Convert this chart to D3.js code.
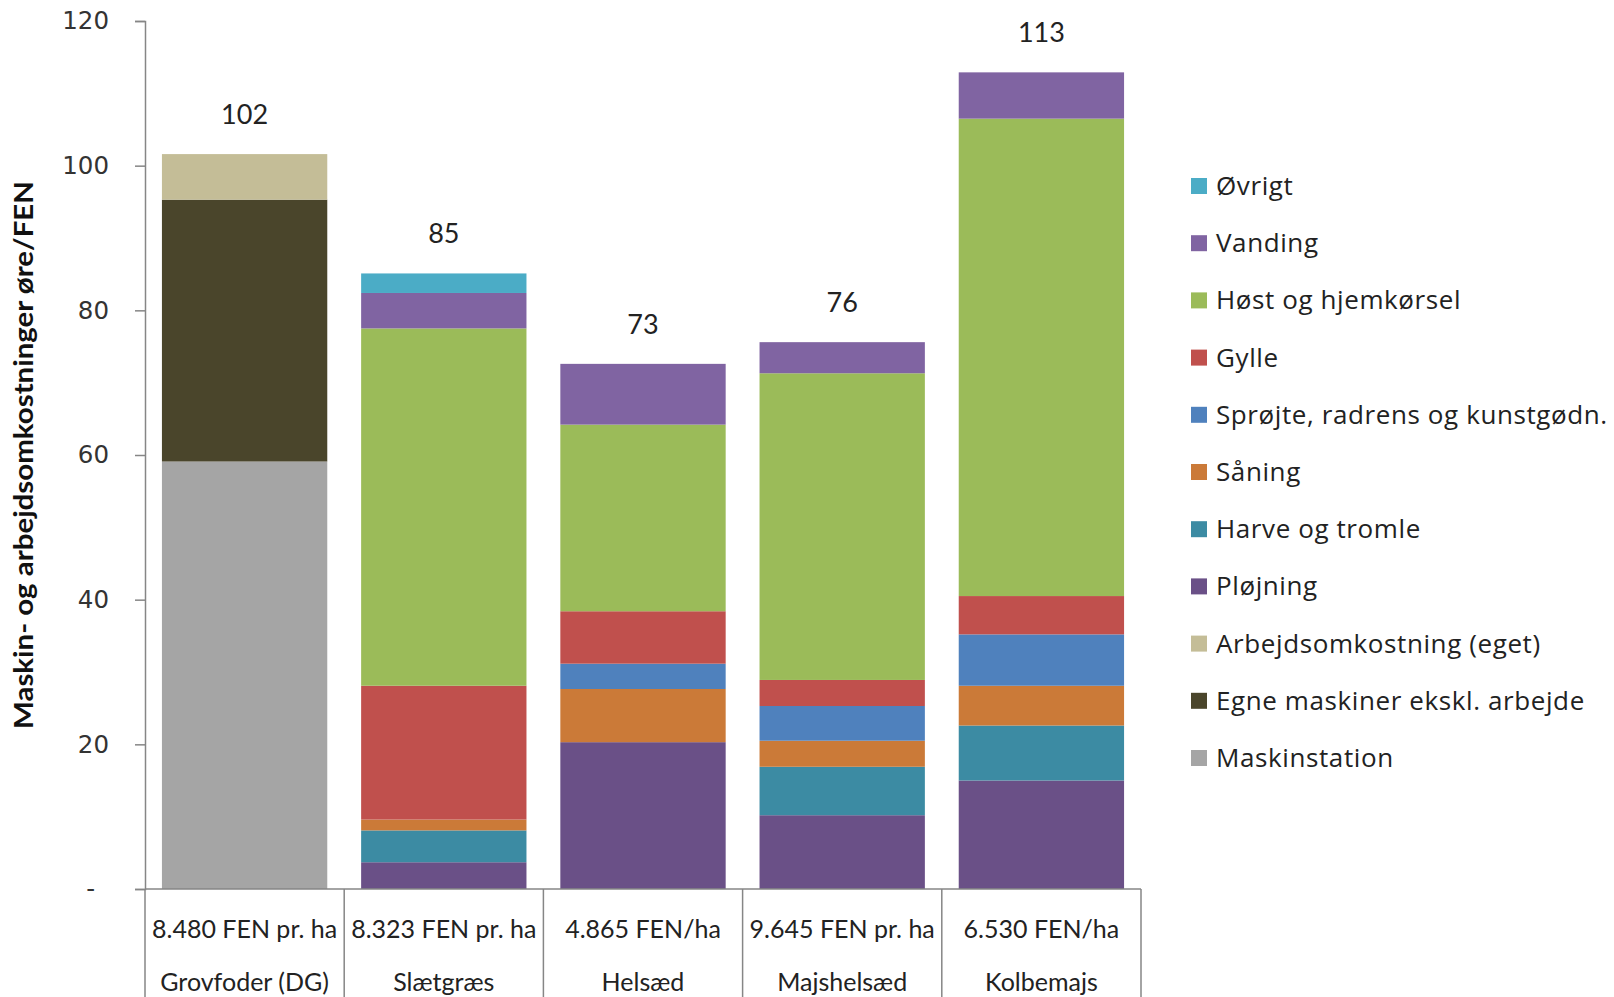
<!DOCTYPE html>
<html>
<head>
<meta charset="utf-8">
<script src="https://cdn.jsdelivr.net/npm/d3@7"></script>
<style>
    body { margin: 0; background: #fff; }
    svg { display: block; }
</style>
</head>
<body>
<div id="chart"></div>
<script>
// categories and values (øre/FEN)
var categories = ["Grovfoder (DG)", "Slætgræs", "Helsæd", "Majshelsæd", "Kolbemajs"];
var fenLabels = ["8.480 FEN pr. ha", "8.323 FEN pr. ha", "4.865 FEN/ha", "9.645 FEN pr. ha", "6.530 FEN/ha"];

var seriesNames = ["Maskinstation", "Egne maskiner ekskl. arbejde", "Arbejdsomkostning (eget)",
    "Pløjning", "Harve og tromle", "Såning", "Sprøjte, radrens og kunstgødn.", "Gylle",
    "Høst og hjemkørsel", "Vanding", "Øvrigt"];
var seriesColors = ["#a5a5a5", "#4a452b", "#c4bd97", "#6a5087", "#3c8ba3", "#cb7a38",
    "#4f81bd", "#c0504d", "#9bbb59", "#8064a2", "#4bacc6"];

var maskinstation = [59.1, 0, 0, 0, 0];
var egneMaskiner  = [36.2, 0, 0, 0, 0];
var arbejde       = [6.3, 0, 0, 0, 0];
var ploejning     = [0, 3.7, 20.3, 10.2, 15.0];
var harve         = [0, 4.4, 0, 6.7, 7.6];
var saaning       = [0, 1.5, 7.35, 3.6, 5.5];
var sproejte      = [0, 0, 3.5, 4.8, 7.1];
var gylle         = [0, 18.5, 7.25, 3.6, 5.3];
var hoest         = [0, 49.4, 25.8, 42.4, 66.0];
var vanding       = [0, 4.9, 8.4, 4.3, 6.4];
var oevrigt       = [0, 2.7, 0, 0, 0];

var yTicks = [0, 20, 40, 60, 80, 100, 120];

var seriesValues = [maskinstation, egneMaskiner, arbejde, ploejning, harve, saaning,
    sproejte, gylle, hoest, vanding, oevrigt];

var rows = categories.map(function(c, i) {
    var row = { category: c, fen: fenLabels[i] };
    seriesNames.forEach(function(s, j) { row[s] = seriesValues[j][i]; });
    return row;
});

var width = 1614, height = 997;
var plot = { left: 145, right: 1141, top: 21, bottom: 889 };
var axisColor = "#868686";

var svg = d3.select("#chart").append("svg")
    .attr("width", width)
    .attr("height", height);

var x = d3.scaleBand()
    .domain(categories)
    .range([plot.left, plot.right])
    .paddingInner(0.17)
    .paddingOuter(0.085);

var y = d3.scaleLinear()
    .domain([0, 120])
    .range([plot.bottom, plot.top]);

var color = d3.scaleOrdinal().domain(seriesNames).range(seriesColors);

var stacked = d3.stack().keys(seriesNames)(rows);

// bars
svg.append("g").selectAll("g")
    .data(stacked)
    .enter().append("g")
    .attr("fill", function(d) { return color(d.key); })
    .selectAll("rect")
    .data(function(d) { return d; })
    .enter().append("rect")
    .attr("x", function(d) { return x(d.data.category); })
    .attr("y", function(d) { return y(d[1]); })
    .attr("width", x.bandwidth())
    .attr("height", function(d) { return y(d[0]) - y(d[1]); });

// totals above bars
svg.append("g").selectAll("text")
    .data(rows)
    .enter().append("text")
    .attr("x", function(d) { return x(d.category) + x.bandwidth() / 2; })
    .attr("y", function(d) {
        var total = d3.sum(seriesNames, function(s) { return d[s]; });
        return y(total) - 30;
    })
    .attr("text-anchor", "middle")
    .attr("font-family", "Lato, 'Open Sans', sans-serif")
    .attr("font-size", "27px")
    .attr("fill", "#222")
    .text(function(d) {
        return Math.round(d3.sum(seriesNames, function(s) { return d[s]; }));
    });

// y axis
var yAxis = d3.axisLeft(y)
    .tickValues(yTicks)
    .tickSize(10)
    .tickPadding(26)
    .tickFormat(function(v) { return v === 0 ? "-" : v; });

var yg = svg.append("g")
    .attr("transform", "translate(" + plot.left + ",0)")
    .call(yAxis);
yg.select(".domain").attr("stroke", axisColor).attr("stroke-width", 1.5);
yg.selectAll(".tick line").attr("stroke", axisColor).attr("stroke-width", 1.5);
yg.selectAll(".tick text")
    .attr("font-family", "'DejaVu Sans', Verdana, sans-serif")
    .attr("font-size", "24.5px")
    .attr("fill", "#333")
    .attr("dx", function(v) { return v === 0 ? -14 : 0; });

// x axis line and category separators
svg.append("line")
    .attr("x1", plot.left).attr("x2", plot.right)
    .attr("y1", plot.bottom).attr("y2", plot.bottom)
    .attr("stroke", axisColor).attr("stroke-width", 1.5);

var bounds = d3.range(categories.length + 1).map(function(i) {
    return plot.left + i * x.step();
});
svg.append("g").selectAll("line")
    .data(bounds)
    .enter().append("line")
    .attr("x1", function(d) { return d; })
    .attr("x2", function(d) { return d; })
    .attr("y1", plot.bottom)
    .attr("y2", height)
    .attr("stroke", axisColor)
    .attr("stroke-width", 1.5);

var labelFont = "Lato, 'Open Sans', sans-serif";
svg.append("g").selectAll("text")
    .data(rows)
    .enter().append("text")
    .attr("x", function(d) { return x(d.category) + x.bandwidth() / 2; })
    .attr("y", 938)
    .attr("text-anchor", "middle")
    .attr("font-family", labelFont)
    .attr("font-size", "25px")
    .attr("fill", "#222")
    .text(function(d) { return d.fen; });

svg.append("g").selectAll("text")
    .data(rows)
    .enter().append("text")
    .attr("x", function(d) { return x(d.category) + x.bandwidth() / 2; })
    .attr("y", 991)
    .attr("text-anchor", "middle")
    .attr("font-family", labelFont)
    .attr("font-size", "25px")
    .attr("fill", "#222")
    .text(function(d) { return d.category; });

// y axis title
svg.append("text")
    .attr("transform", "translate(33," + ((plot.top + plot.bottom) / 2) + ") rotate(-90)")
    .attr("text-anchor", "middle")
    .attr("font-family", labelFont)
    .attr("font-weight", "bold")
    .attr("font-size", "26px")
    .attr("fill", "#111")
    .attr("textLength", 548)
    .attr("lengthAdjust", "spacingAndGlyphs")
    .text("Maskin- og arbejdsomkostninger øre/FEN");

// legend, top series first
var legendItems = seriesNames.slice().reverse();
var legend = svg.append("g")
    .attr("transform", "translate(1191,186)");
var item = legend.selectAll("g")
    .data(legendItems)
    .enter().append("g")
    .attr("transform", function(d, i) { return "translate(0," + (i * 57.2) + ")"; });
item.append("rect")
    .attr("x", 0).attr("y", -8)
    .attr("width", 16).attr("height", 16)
    .attr("fill", function(d) { return color(d); });
item.append("text")
    .attr("x", 25)
    .attr("y", 9)
    .attr("font-family", "'Open Sans', sans-serif")
    .attr("font-size", "26px")
    .attr("letter-spacing", "0.6px")
    .attr("fill", "#222")
    .text(function(d) { return d; });
</script>
</body>
</html>
